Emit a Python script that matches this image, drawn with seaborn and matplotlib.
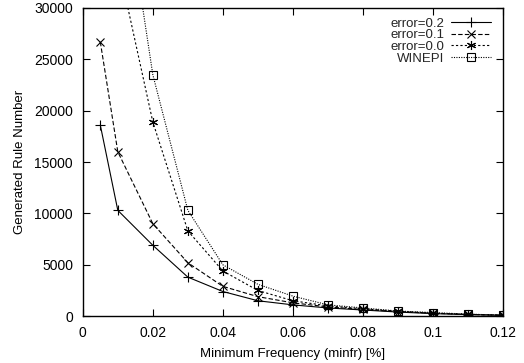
import matplotlib
matplotlib.use("Agg")
import matplotlib.pyplot as plt
import seaborn as sns
import pandas as pd

sns.set_theme(style="ticks")
plt.rcParams['font.family'] = ['Liberation Sans', 'DejaVu Sans']

x_e02 = [0.005, 0.01, 0.02, 0.03, 0.04, 0.05, 0.06, 0.07, 0.08, 0.09, 0.10, 0.11, 0.12]
y_e02 = [18600, 10300, 6900, 3800, 2400, 1500, 1100, 800, 600, 400, 250, 150, 80]
x_e01 = [0.005, 0.01, 0.02, 0.03, 0.04, 0.05, 0.06, 0.07, 0.08, 0.09, 0.10, 0.11, 0.12]
y_e01 = [26700, 16000, 9000, 5200, 2900, 1900, 1300, 900, 650, 450, 280, 170, 90]
x_e00 = [0.01, 0.02, 0.03, 0.04, 0.05, 0.06, 0.07, 0.08, 0.09, 0.10, 0.11, 0.12]
y_e00 = [34500, 18900, 8300, 4400, 2500, 1500, 1000, 720, 480, 300, 180, 100]
x_win = [0.01, 0.02, 0.03, 0.04, 0.05, 0.06, 0.07, 0.08, 0.09, 0.10, 0.11, 0.12]
y_win = [46000, 23500, 10300, 5000, 3100, 1950, 1100, 800, 500, 350, 200, 100]

labels = ["error=0.2", "error=0.1", "error=0.0", "WINEPI"]
xticks = [0, 0.02, 0.04, 0.06, 0.08, 0.10, 0.12]
xticklabels = ["0", "0.02", "0.04", "0.06", "0.08", "0.1", "0.12"]
yticks = [0, 5000, 10000, 15000, 20000, 25000, 30000]

series = [(x_e02, y_e02), (x_e01, y_e01), (x_e00, y_e00), (x_win, y_win)]
styles = [
    dict(linestyle='-', marker='+', markersize=7, mew=0.8),
    dict(linestyle=(0, (4, 2)), marker='x', markersize=5.5, mew=0.8),
    dict(linestyle=(0, (2, 2)), marker=(6, 2, 0), markersize=6.5, mew=0.8),
    dict(linestyle=(0, (1, 1.2)), marker='s', markersize=5.5, mew=0.8, mfc='none'),
]

fig = plt.figure(figsize=(5.24, 3.63), dpi=100)
ax = fig.add_axes([0.158, 0.129, 0.802, 0.849])

for (xs, ys), lab, st in zip(series, labels, styles):
    df = pd.DataFrame({"x": xs, "y": ys})
    sns.lineplot(data=df, x="x", y="y", ax=ax, color="black", lw=0.8,
                 label=lab, mec="black", **st)

ax.set_xlim(0, 0.12)
ax.set_ylim(0, 30000)
ax.set_xticks(xticks)
ax.set_xticklabels(xticklabels)
ax.set_yticks(yticks)
ax.tick_params(direction='in', top=True, right=True, labelsize=10, length=5, width=0.8,
               colors='black')
ax.tick_params(axis='y', pad=7)
ax.tick_params(axis='x', pad=7)
for sp in ax.spines.values():
    sp.set_visible(True)
    sp.set_color('black')
    sp.set_linewidth(1.0)
ax.set_xlabel("Minimum Frequency (minfr) [%]", fontsize=9.5, color='black', labelpad=6)
ax.set_ylabel("Generated Rule Number", fontsize=9.5, color='black', labelpad=6)
leg = ax.legend(loc='upper right', bbox_to_anchor=(0.975, 0.975), markerfirst=False,
                frameon=False, fontsize=9.5, handlelength=3.0, labelspacing=-0.05,
                borderaxespad=0.0, borderpad=0.15, handletextpad=0.5)
for t in leg.get_texts():
    t.set_ha('right')
fig.savefig("out.png", dpi=100)
